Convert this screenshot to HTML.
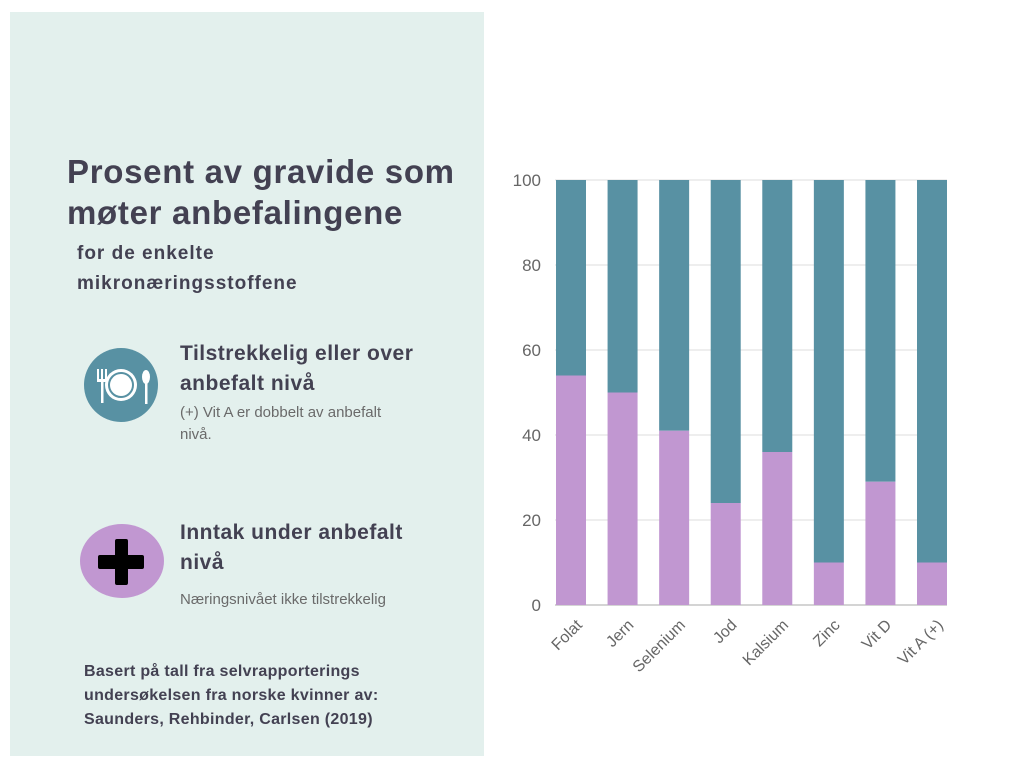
<!DOCTYPE html>
<html><head><meta charset="utf-8"><style>
body{margin:0;width:1024px;height:768px;background:#fff;position:relative;font-family:"Liberation Sans","DejaVu Sans",sans-serif;overflow:hidden}
.panel{position:absolute;left:10px;top:12px;width:474px;height:744px;background:#e3f0ed}
.t{position:absolute;color:#434152;font-weight:bold;white-space:nowrap}
.s{position:absolute;color:#6a6a6a;font-size:15px;line-height:22px;white-space:nowrap}
</style></head><body>
<div class="panel"></div>
<div class="t" style="left:67px;top:151px;font-size:33px;line-height:41px;letter-spacing:0.7px">Prosent av gravide som<br>møter anbefalingene</div>
<div class="t" style="left:77px;top:239px;font-size:19px;line-height:30px;letter-spacing:1px">for de enkelte<br>mikronæringsstoffene</div>
<svg style="position:absolute;left:83px;top:347px" width="76" height="76"><circle cx="38" cy="38" r="37" fill="#5891a3"/><circle cx="38" cy="38" r="16" fill="#fff"/><circle cx="38" cy="38" r="12" fill="none" stroke="#5891a3" stroke-width="2"/><rect x="14" y="22" width="2" height="12" fill="#fff"/><rect x="18" y="22" width="2" height="12" fill="#fff"/><rect x="22" y="22" width="2" height="12" fill="#fff"/><rect x="14" y="32" width="10" height="3" fill="#fff"/><rect x="18" y="34" width="2.5" height="22" fill="#fff"/><ellipse cx="63" cy="30" rx="4" ry="7" fill="#fff"/><rect x="62" y="35" width="2.5" height="22" fill="#fff"/></svg>
<div class="t" style="left:180px;top:339px;font-size:21px;line-height:30px;letter-spacing:0.5px">Tilstrekkelig eller over<br>anbefalt nivå</div>
<div class="s" style="left:180px;top:402px">(+) Vit A er dobbelt av anbefalt<br>nivå.</div>
<svg style="position:absolute;left:79px;top:523px" width="86" height="76"><ellipse cx="43" cy="38" rx="42" ry="37" fill="#c197d1"/><rect x="19" y="32" width="46" height="14" rx="2" fill="#000"/><rect x="36" y="16" width="13" height="46" rx="2" fill="#000"/></svg>
<div class="t" style="left:180px;top:518px;font-size:21px;line-height:30px;letter-spacing:0.5px">Inntak under anbefalt<br>nivå</div>
<div class="s" style="left:180px;top:589px">Næringsnivået ikke tilstrekkelig</div>
<div class="t" style="left:84px;top:660px;font-size:16px;line-height:24px;letter-spacing:0.3px">Basert på tall fra selvrapporterings<br>undersøkelsen fra norske kvinner av:<br>Saunders, Rehbinder, Carlsen (2019)</div>
<svg id="chart" style="position:absolute;left:0;top:0" width="1024" height="768"></svg>
<script>
const categories=["Folat","Jern","Selenium","Jod","Kalsium","Zinc","Vit D","Vit A (+)"];
const below=[54,50,41,24,36,10,29,10];
const total=[100,100,100,100,100,100,100,100];
const ticks=[0,20,40,60,80,100];
const svg=document.getElementById('chart');
const NS='http://www.w3.org/2000/svg';
const x0=555,x1=947,yTop=180,yBot=605,bw=30;
const y=v=>yBot-(v/100)*(yBot-yTop);
const step=(x1-1-bw-x0)/(categories.length-1);
const xc=i=>x0+1+bw/2+step*i;
function mk(t,a){const e=document.createElementNS(NS,t);for(const k in a)e.setAttribute(k,a[k]);svg.appendChild(e);return e;}
ticks.forEach(t=>{
 const l=mk('line',{x1:x0,x2:x1,y1:y(t),y2:y(t),stroke:t===0?'#aaa':'#ddd','stroke-width':1});
 
 
 const tx=mk('text',{x:541,y:y(t)+6,'text-anchor':'end','font-size':17,fill:'#666','font-family':'Liberation Sans, sans-serif'});
 tx.textContent=t;
 
 
});
categories.forEach((c,i)=>{
 const cx=xc(i);
 const r1=mk('rect',{x:cx-bw/2,y:y(total[i]),width:bw,height:y(below[i])-y(total[i]),fill:'#5891a3'});
 
 
 const r2=mk('rect',{x:cx-bw/2,y:y(below[i]),width:bw,height:yBot-y(below[i]),fill:'#c197d1'});
 
 
 const lx=cx+12,ly=626;
 const tx=mk('text',{x:lx,y:ly,'text-anchor':'end','font-size':16,fill:'#666','font-family':'Liberation Sans, sans-serif',transform:'rotate(-45 '+lx+' '+ly+')'});
 tx.textContent=c;
 
 
});
</script>
</body></html>
